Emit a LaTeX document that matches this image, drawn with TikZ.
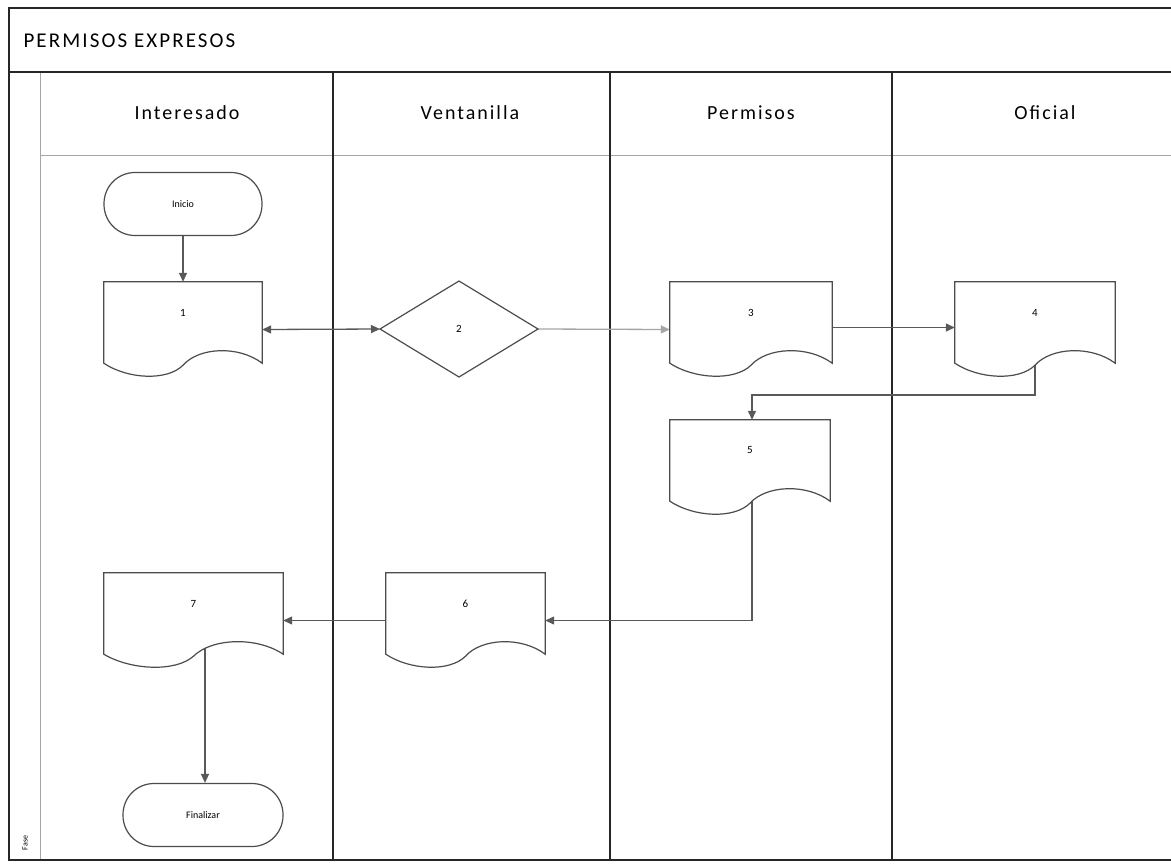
\documentclass[tikz,border=0pt]{standalone}
\usepackage{fontspec}
\setmainfont{Carlito}
\newfontfamily\hdrfont[LetterSpace=10]{Carlito}
\usetikzlibrary{arrows.meta,calc,backgrounds}
\tikzset{
  frameline/.style={draw=black!85, line width=1.6pt},
  lightline/.style={draw=black!35, line width=1pt},
  docbox/.style={minimum height=95pt, inner sep=0pt},
  docline/.style={draw=black!70, line width=1.2pt, fill=white},
  term/.style={draw=black!70, line width=1.2pt, fill=white, rounded corners=31pt, minimum height=63pt, inner sep=0pt, font=\fontsize{10}{12}\selectfont},
  decision/.style={inner sep=0pt, minimum width=158pt, minimum height=96pt},
  flow/.style={draw=black!65, line width=1.3pt, -{Triangle[length=9pt,width=8pt]}},
  lightflow/.style={flow, draw=black!35},
  numlabel/.style={font=\fontsize{11}{13}\selectfont},
  hdr/.style={font=\hdrfont\fontsize{20}{24}\selectfont},
}
\newcommand\docshape[2]{%
  \draw[docline] (#1.north west) -- (#1.north east) -- ([yshift=14pt]#1.south east)
    .. controls ($(#1.south east)!0.15!(#1.south west)+(0,32pt)$) and ($(#1.south east)!0.4!(#1.south west)+(0,30pt)$) ..
    ($(#1.south east)!0.5!(#1.south west)+(0,12pt)$)
    .. controls ($(#1.south east)!0.6!(#1.south west)+(0,-4pt)$) and ($(#1.south east)!0.85!(#1.south west)+(0,-2pt)$) ..
    ([yshift=14pt]#1.south west) -- cycle;
  \node[numlabel] (#1-t) at ([yshift=17pt]#1.center) {#2};}
\begin{document}
\begin{tikzpicture}[x=1pt,y=-1pt]
\useasboundingbox (0,0) rectangle (1171,863);
% frame and lanes
\begin{scope}[on background layer]
\fill[white] (0,0) rectangle (1171,863);
\draw[lightline] (40,72) -- (40,860);
\draw[lightline] (40,155) -- (1171,155);
\draw[frameline] (1171,8) -- (9,8) -- (9,860) -- (1171,860);
\draw[frameline] (9,72) -- (1171,72);
\draw[frameline] (333,72) -- (333,860);
\draw[frameline] (610,72) -- (610,860);
\draw[frameline] (892,72) -- (892,860);
\end{scope}
\node[anchor=west, font=\hdrfont\fontsize{21}{25}\selectfont] (title) at (20,41) {PERMISOS EXPRESOS};
\node[hdr] (h1) at (187,113) {Interesado};
\node[hdr] (h2) at (470,113) {Ventanilla};
\node[hdr] (h3) at (751,113) {Permisos};
\node[hdr] (h4) at (1045,113) {Oficial};
\node[rotate=90, font=\fontsize{8}{9}\selectfont] (fase) at (25,843) {Fase};
% nodes
\node[term, minimum width=158pt] (ini) at (183,204) {Inicio};
\node[term, minimum width=160pt] (fin) at (203,815) {Finalizar};
\node[docbox, minimum width=158pt] (d1) at (183,329.5) {};
\node[docbox, minimum width=162pt] (d3) at (751,329.5) {};
\node[docbox, minimum width=160pt] (d4) at (1035,329.5) {};
\node[docbox, minimum width=160pt] (d5) at (750,467.5) {};
\node[docbox, minimum width=159pt] (d6) at (465.5,620.5) {};
\node[docbox, minimum width=179pt] (d7) at (193.5,620.5) {};
\docshape{d1}{1}\docshape{d3}{3}\docshape{d4}{4}\docshape{d5}{5}\docshape{d6}{6}\docshape{d7}{7}
\draw[docline] (459,281) coordinate (dtop) -- (538,329) coordinate (dright) -- (459,377) -- (380,329) coordinate (dleft) -- cycle;
\node[decision, numlabel] (d2) at (459,329) {2};
% connectors
\begin{scope}[on background layer]
\draw[flow] (ini.south) -- (d1.north);
\draw[flow, {Triangle[length=9pt,width=8pt]}-{Triangle[length=9pt,width=8pt]}] (d1.east) -- (dleft);
\draw[lightflow] (dright) -- (d3.west);
\draw[flow] ([yshift=2pt]d3.east) -- ([yshift=2pt]d4.west);
\draw[flow] (d4.center) -- (d4.center |- 0,395) -| ([xshift=2pt]d5.north);
\draw[flow] ([xshift=2pt]d5.center) |- (d6.east);
\draw[flow] (d6.west) -- (d7.east);
\draw[flow] ([xshift=2pt]fin.north |- d7.center) -- ([xshift=2pt]fin.north);
\end{scope}
\end{tikzpicture}
\end{document}
